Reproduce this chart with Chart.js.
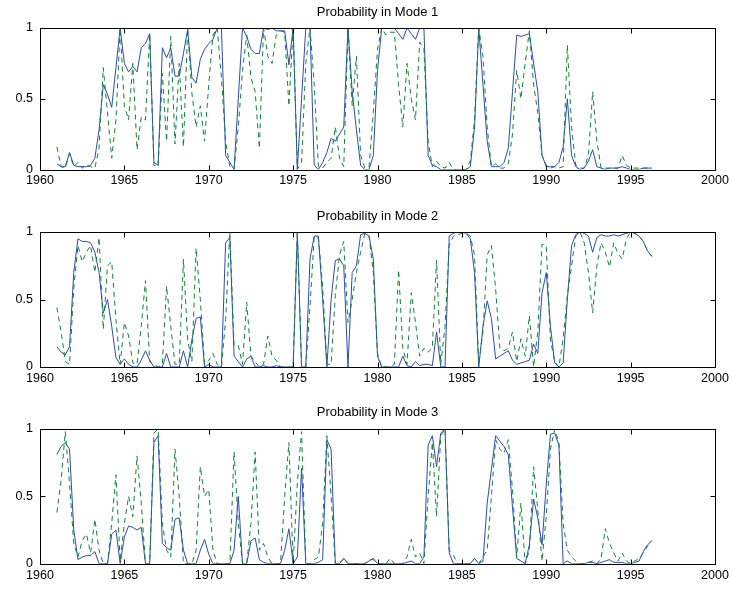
<!DOCTYPE html>
<html>
<head>
<meta charset="utf-8">
<script src="https://cdn.jsdelivr.net/npm/chart.js@4.4.1/dist/chart.umd.min.js"></script>
<style>
  html, body { margin: 0; padding: 0; background: #fff; }
  #wrap { position: relative; width: 733px; height: 592px; }
  canvas { position: absolute; left: 0; }
</style>
</head>
<body>
<div id="wrap">
  <canvas id="mode1" width="733" height="192" style="top:0px"></canvas>
  <canvas id="mode2" width="733" height="192" style="top:200px"></canvas>
  <canvas id="mode3" width="733" height="196" style="top:396px"></canvas>
</div>
<script>
// quarterly observations, 1961Q1 .. 1996Q2
const startYear = 1961;

const mode1Solid = [
  0.04, 0.02, 0.02, 0.12, 0.03, 0.02, 0.02, 0.02, 0.03, 0.08,
  0.28, 0.60, 0.53, 0.44, 0.72, 1.00, 0.75, 0.69, 0.73, 0.69,
  0.86, 0.89, 0.96, 0.05, 0.03, 0.86, 0.79, 0.86, 0.66, 0.66,
  0.82, 0.99, 0.65, 0.61, 0.78, 0.85, 0.89, 0.92, 1.00, 1.00,
  0.10, 0.05, 0.00, 0.50, 1.00, 0.94, 0.85, 0.82, 0.82, 1.00,
  0.99, 1.00, 0.98, 0.98, 0.98, 0.74, 1.00, 0.00, 0.50, 1.00,
  1.00, 0.03, 0.00, 0.05, 0.12, 0.22, 0.20, 0.25, 0.30, 1.00,
  0.55, 0.28, 0.03, 0.00, 0.00, 0.10, 0.70, 1.00, 1.00, 1.00,
  1.00, 0.96, 0.92, 1.00, 0.96, 0.92, 1.00, 1.00, 0.10, 0.03,
  0.02, 0.00, 0.00, 0.00, 0.00, 0.00, 0.00, 0.00, 0.02, 0.30,
  1.00, 0.60, 0.20, 0.02, 0.02, 0.02, 0.05, 0.15, 0.55, 0.95,
  0.94, 0.95, 0.96, 0.75, 0.55, 0.10, 0.02, 0.02, 0.02, 0.05,
  0.16, 0.50, 0.10, 0.02, 0.00, 0.01, 0.06, 0.14, 0.02, 0.01,
  0.00, 0.01, 0.01, 0.01, 0.02, 0.01, 0.00, 0.00, 0.00, 0.01,
  0.01, 0.01
];
const mode1Dashed = [
  0.16, 0.02, 0.01, 0.11, 0.02, 0.05, 0.01, 0.03, 0.02, 0.01,
  0.15, 0.72, 0.40, 0.08, 0.35, 1.00, 0.45, 0.35, 0.75, 0.14,
  0.37, 0.35, 0.96, 0.03, 0.02, 0.68, 0.20, 0.94, 0.18, 0.75,
  0.16, 1.00, 0.54, 0.30, 0.45, 0.20, 0.60, 0.95, 1.00, 0.65,
  0.20, 0.02, 0.00, 0.30, 0.70, 0.95, 0.65, 0.55, 0.15, 1.00,
  0.80, 0.75, 0.95, 0.98, 0.97, 0.45, 1.00, 0.00, 0.05, 0.75,
  1.00, 0.60, 0.02, 0.01, 0.05, 0.08, 0.30, 0.08, 0.02, 1.00,
  0.45, 0.80, 0.10, 0.01, 0.02, 0.40, 0.85, 1.00, 0.95, 0.97,
  0.97, 0.60, 0.30, 0.75, 0.50, 0.35, 0.90, 0.85, 0.20, 0.02,
  0.06, 0.02, 0.01, 0.05, 0.00, 0.00, 0.00, 0.00, 0.06, 0.35,
  1.00, 0.80, 0.30, 0.02, 0.04, 0.01, 0.01, 0.04, 0.25, 0.70,
  0.50, 0.75, 0.98, 0.60, 0.40, 0.10, 0.03, 0.01, 0.02, 0.01,
  0.02, 0.88, 0.30, 0.03, 0.01, 0.01, 0.10, 0.55, 0.20, 0.01,
  0.01, 0.01, 0.01, 0.01, 0.10, 0.03, 0.01, 0.01, 0.01, 0.01,
  0.01, 0.01
];

const mode2Solid = [
  0.15, 0.11, 0.09, 0.15, 0.70, 0.95, 0.93, 0.93, 0.92, 0.85,
  0.70, 0.40, 0.50, 0.30, 0.07, 0.02, 0.06, 0.02, 0.00, 0.00,
  0.05, 0.12, 0.05, 0.00, 0.00, 0.00, 0.10, 0.00, 0.00, 0.00,
  0.12, 0.00, 0.20, 0.36, 0.37, 0.00, 0.02, 0.00, 0.00, 0.00,
  0.92, 0.96, 0.08, 0.04, 0.00, 0.06, 0.08, 0.00, 0.00, 0.01,
  0.00, 0.00, 0.01, 0.00, 0.00, 0.00, 0.00, 1.00, 0.00, 0.00,
  0.80, 0.97, 0.97, 0.50, 0.00, 0.50, 0.79, 0.80, 0.75, 0.00,
  0.70, 0.75, 0.98, 0.99, 0.97, 0.80, 0.08, 0.00, 0.00, 0.00,
  0.00, 0.00, 0.08, 0.01, 0.00, 0.04, 0.01, 0.02, 0.02, 0.01,
  0.26, 0.00, 0.00, 0.97, 0.99, 1.00, 1.00, 0.99, 0.95, 0.70,
  0.00, 0.30, 0.49, 0.36, 0.06, 0.08, 0.10, 0.12, 0.05, 0.02,
  0.03, 0.04, 0.05, 0.17, 0.10, 0.55, 0.70, 0.30, 0.03, 0.00,
  0.03, 0.50, 0.90, 0.98, 1.00, 0.99, 0.97, 0.85, 0.96, 0.98,
  0.97, 0.97, 0.98, 0.97, 0.98, 0.99, 1.00, 0.99, 0.97, 0.93,
  0.86, 0.82
];
const mode2Dashed = [
  0.44, 0.26, 0.04, 0.02, 0.58, 0.90, 0.78, 0.85, 0.90, 0.70,
  0.96, 0.28, 0.75, 0.78, 0.35, 0.02, 0.33, 0.23, 0.03, 0.02,
  0.30, 0.64, 0.04, 0.02, 0.00, 0.02, 0.60, 0.30, 0.02, 0.02,
  0.80, 0.20, 0.04, 0.88, 0.50, 0.02, 0.05, 0.10, 0.02, 0.00,
  0.35, 1.00, 0.16, 0.16, 0.02, 0.48, 0.08, 0.04, 0.00, 0.02,
  0.23, 0.08, 0.05, 0.00, 0.00, 0.00, 0.00, 1.00, 0.00, 0.00,
  0.45, 0.97, 0.95, 0.60, 0.02, 0.02, 0.53, 0.83, 0.93, 0.33,
  0.50, 0.70, 0.85, 0.99, 0.97, 0.70, 0.10, 0.00, 0.00, 0.00,
  0.02, 0.72, 0.14, 0.02, 0.55, 0.33, 0.08, 0.14, 0.11, 0.14,
  0.79, 0.02, 0.30, 0.90, 0.97, 0.98, 0.99, 0.99, 0.97, 0.83,
  0.02, 0.26, 0.83, 0.90, 0.58, 0.14, 0.12, 0.14, 0.26, 0.04,
  0.21, 0.08, 0.38, 0.00, 0.26, 0.91, 0.90, 0.20, 0.04, 0.00,
  0.21, 0.53, 0.75, 0.97, 1.00, 0.92, 0.70, 0.40, 0.75, 0.92,
  0.85, 0.74, 0.92, 0.84, 0.80, 0.95, 1.00, 0.99, 0.97, 0.93,
  0.86, 0.82
];

const mode3Solid = [
  0.81, 0.87, 0.90, 0.85, 0.25, 0.03, 0.05, 0.06, 0.06, 0.09,
  0.00, 0.00, 0.00, 0.22, 0.25, 0.00, 0.20, 0.28, 0.27, 0.25,
  0.27, 0.00, 0.00, 0.90, 0.95, 0.15, 0.12, 0.10, 0.33, 0.34,
  0.10, 0.00, 0.00, 0.00, 0.10, 0.18, 0.07, 0.00, 0.00, 0.00,
  0.00, 0.00, 0.10, 0.50, 0.00, 0.00, 0.17, 0.19, 0.03, 0.01,
  0.00, 0.00, 0.00, 0.00, 0.10, 0.26, 0.00, 0.05, 0.71, 0.00,
  0.00, 0.00, 0.01, 0.03, 0.92, 0.85, 0.00, 0.00, 0.04, 0.00,
  0.00, 0.00, 0.00, 0.00, 0.02, 0.04, 0.00, 0.00, 0.00, 0.00,
  0.00, 0.00, 0.00, 0.01, 0.02, 0.00, 0.00, 0.05, 0.88, 0.95,
  0.72, 0.97, 1.00, 0.08, 0.00, 0.00, 0.00, 0.00, 0.00, 0.04,
  0.00, 0.02, 0.45, 0.70, 0.95, 0.91, 0.87, 0.81, 0.42, 0.04,
  0.02, 0.00, 0.14, 0.48, 0.34, 0.14, 0.59, 0.96, 0.97, 0.88,
  0.00, 0.02, 0.00, 0.00, 0.00, 0.00, 0.01, 0.01, 0.00, 0.01,
  0.02, 0.03, 0.01, 0.01, 0.01, 0.00, 0.00, 0.01, 0.02, 0.09,
  0.14, 0.17
];
const mode3Dashed = [
  0.38, 0.62, 0.98, 0.60, 0.15, 0.05, 0.17, 0.22, 0.08, 0.33,
  0.10, 0.00, 0.00, 0.30, 0.66, 0.02, 0.30, 0.50, 0.35, 0.80,
  0.45, 0.00, 0.00, 0.97, 1.00, 0.30, 0.10, 0.05, 0.85, 0.50,
  0.00, 0.00, 0.00, 0.10, 0.72, 0.50, 0.55, 0.10, 0.00, 0.00,
  0.00, 0.00, 0.83, 0.30, 0.00, 0.00, 0.30, 0.83, 0.10, 0.15,
  0.05, 0.00, 0.00, 0.00, 0.50, 0.90, 0.00, 0.60, 0.98, 0.00,
  0.00, 0.03, 0.05, 0.30, 0.95, 0.50, 0.00, 0.00, 0.04, 0.00,
  0.00, 0.00, 0.00, 0.00, 0.03, 0.03, 0.00, 0.00, 0.00, 0.04,
  0.00, 0.00, 0.00, 0.05, 0.18, 0.05, 0.08, 0.00, 0.50, 0.90,
  0.35, 0.95, 1.00, 0.10, 0.06, 0.00, 0.00, 0.00, 0.00, 0.04,
  0.00, 0.05, 0.10, 0.50, 0.92, 0.85, 0.82, 0.92, 0.55, 0.05,
  0.45, 0.00, 0.10, 0.72, 0.40, 0.02, 0.35, 0.85, 1.00, 0.90,
  0.30, 0.10, 0.05, 0.02, 0.00, 0.00, 0.01, 0.02, 0.00, 0.04,
  0.26, 0.15, 0.08, 0.02, 0.08, 0.02, 0.00, 0.02, 0.04, 0.08,
  0.13, 0.17
];

const xTicks = [1960, 1965, 1970, 1975, 1980, 1985, 1990, 1995, 2000];
const yTicks = [0, 0.5, 1];

const dates = mode1Solid.map((_, i) => startYear + i / 4);
const FONT = "'Liberation Sans', Arial, Helvetica, sans-serif";

// box round the axes plus short ticks pointing inward, matlab style
const frame = {
  id: 'frame',
  afterDatasetsDraw(chart) {
    const { ctx, chartArea: a, scales } = chart;
    const L = Math.round(a.left) + 0.5, R = Math.round(a.right) + 0.5;
    const T = Math.round(a.top) + 0.5, B = Math.round(a.bottom) + 0.5;
    ctx.save();
    ctx.strokeStyle = '#000';
    ctx.lineWidth = 1;
    ctx.strokeRect(L, T, R - L, B - T);
    ctx.beginPath();
    xTicks.forEach(v => {
      const px = Math.round(scales.x.getPixelForValue(v)) + 0.5;
      ctx.moveTo(px, B); ctx.lineTo(px, B - 5);
      ctx.moveTo(px, T); ctx.lineTo(px, T + 5);
    });
    yTicks.forEach(v => {
      const py = Math.round(scales.y.getPixelForValue(v)) + 0.5;
      ctx.moveTo(L, py); ctx.lineTo(L + 5, py);
      ctx.moveTo(R, py); ctx.lineTo(R - 5, py);
    });
    ctx.stroke();
    ctx.restore();
  }
};

function makePanel(id, title, solid, dashed, titleTop, titleBottom, axisHeight) {
  new Chart(document.getElementById(id), {
    type: 'line',
    data: {
      datasets: [
        {
          data: dashed.map((v, i) => ({ x: dates[i], y: v })),
          borderColor: '#128237',
          borderWidth: 1,
          borderDash: [5, 4],
          pointRadius: 0,
          order: 0
        },
        {
          data: solid.map((v, i) => ({ x: dates[i], y: v })),
          borderColor: '#2d4bb0',
          borderWidth: 1,
          pointRadius: 0,
          order: 1
        }
      ]
    },
    options: {
      responsive: false,
      animation: false,
      layout: { padding: { left: 0, right: 18, top: 0, bottom: 0 } },
      plugins: {
        legend: { display: false },
        tooltip: { enabled: false },
        title: {
          display: true,
          text: title,
          color: '#000',
          fullSize: false,
          font: { family: FONT, size: 13, weight: 'normal', lineHeight: 1.2 },
          padding: { top: titleTop, bottom: titleBottom }
        }
      },
      scales: {
        x: {
          type: 'linear',
          min: 1960,
          max: 2000,
          afterFit(scale) { scale.height = axisHeight; },
          afterBuildTicks(scale) { scale.ticks = xTicks.map(v => ({ value: v })); },
          ticks: {
            color: '#000',
            font: { family: FONT, size: 12.5 },
            padding: 4,
            maxRotation: 0,
            autoSkip: false,
            callback: v => String(v)
          },
          grid: { display: false, drawTicks: false },
          border: { display: false }
        },
        y: {
          min: 0,
          max: 1,
          afterFit(scale) { scale.width = 40; },
          afterBuildTicks(scale) { scale.ticks = yTicks.map(v => ({ value: v })); },
          ticks: {
            color: '#000',
            font: { family: FONT, size: 12.5 },
            padding: 7,
            callback: v => String(v)
          },
          grid: { display: false, drawTicks: false },
          border: { display: false }
        }
      }
    },
    plugins: [frame]
  });
}

makePanel('mode1', 'Probability in Mode 1', mode1Solid, mode1Dashed, 4.4, 8, 22.5);
makePanel('mode2', 'Probability in Mode 2', mode2Solid, mode2Dashed, 8.4, 8, 25);
makePanel('mode3', 'Probability in Mode 3', mode3Solid, mode3Dashed, 8.4, 9, 28.3);
</script>
</body>
</html>
